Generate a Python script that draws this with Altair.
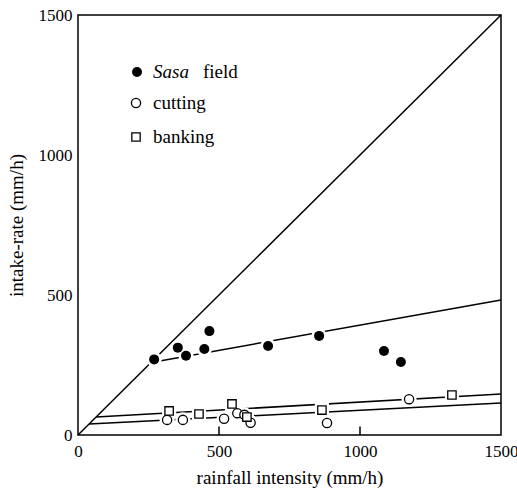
import altair as alt
import pandas as pd

# ---- data ----
sasa_x = [270, 354, 383, 448, 466, 674, 855, 1085, 1145]
sasa_y = [270, 312, 283, 307, 371, 318, 354, 300, 261]
cut_x = [316, 372, 518, 565, 590, 612, 883, 1174]
cut_y = [54, 54, 58, 78, 72, 44, 43, 128]
bank_x = [323, 429, 546, 599, 865, 1326]
bank_y = [86, 75, 111, 64, 89, 143]

# fitted lines (end points) and the 1:1 line
diag_x = [0, 1500]
diag_y = [0, 1500]
sasa_line_x = [270, 1500]
sasa_line_y = [261, 482]
bank_line_x = [64, 1500]
bank_line_y = [64, 146]
cut_line_x = [39, 1500]
cut_line_y = [39, 114]

tick_vals = [0, 500, 1000, 1500]
inner_ticks = [500, 1000]

legend_labels = ["field", "cutting", "banking"]

FONT = "Liberation Serif"

pts = pd.concat([
    pd.DataFrame({"x": sasa_x, "y": sasa_y, "g": "sasa"}),
    pd.DataFrame({"x": cut_x, "y": cut_y, "g": "cut"}),
    pd.DataFrame({"x": bank_x, "y": bank_y, "g": "bank"}),
])
lines = pd.concat([
    pd.DataFrame({"x": diag_x, "y": diag_y, "g": "diag"}),
    pd.DataFrame({"x": sasa_line_x, "y": sasa_line_y, "g": "sasa"}),
    pd.DataFrame({"x": bank_line_x, "y": bank_line_y, "g": "bank"}),
    pd.DataFrame({"x": cut_line_x, "y": cut_line_y, "g": "cut"}),
])

xs = alt.Scale(domain=[0, 1500], nice=False)
ys = alt.Scale(domain=[0, 1500], nice=False)

X = alt.X("x:Q", scale=xs, title="rainfall  intensity  (mm/h)",
          axis=alt.Axis(values=tick_vals, format="d", labelPadding=8,
                        titlePadding=9))
Y = alt.Y("y:Q", scale=ys, title="intake-rate  (mm/h)",
          axis=alt.Axis(values=tick_vals, format="d", labelPadding=6,
                        titlePadding=12))

line_layer = alt.Chart(lines).mark_line(color="black", strokeWidth=1.5).encode(
    x=X, y=Y, detail="g:N")

tick_df = pd.DataFrame({"x": inner_ticks, "y": 0, "y2": 30})
tick_layer = alt.Chart(tick_df).mark_rule(color="black", strokeWidth=1.5).encode(
    x=X, y=Y, y2="y2:Q")

base_p = alt.Chart(pts)
halo_c = base_p.transform_filter("datum.g != 'bank'").mark_point(
    shape="circle", filled=True, color="white", size=230, opacity=1).encode(x=X, y=Y)
halo_s = base_p.transform_filter("datum.g == 'bank'").mark_point(
    shape="square", filled=True, color="white", size=200, opacity=1).encode(x=X, y=Y)

sasa_pts = base_p.transform_filter("datum.g == 'sasa'").mark_point(
    shape="circle", filled=True, color="black", size=100, opacity=1).encode(x=X, y=Y)
cut_pts = base_p.transform_filter("datum.g == 'cut'").mark_point(
    shape="circle", filled=True, fill="white", stroke="black", strokeWidth=1.3,
    size=85, opacity=1).encode(x=X, y=Y)
bank_pts = base_p.transform_filter("datum.g == 'bank'").mark_point(
    shape="square", filled=True, fill="white", stroke="black", strokeWidth=1.3,
    size=70, opacity=1).encode(x=X, y=Y)

# legend drawn inside the plot (pixel positions), one row per element
one = pd.DataFrame({"k": [0]})
txt = dict(align="left", baseline="middle", font=FONT, fontSize=19,
           fontWeight="normal", color="black")
leg_sasa = alt.Chart(one).mark_point(
    shape="circle", filled=True, color="black", size=100, opacity=1).encode(
    x=alt.value(59), y=alt.value(57))
leg_cut = alt.Chart(one).mark_point(
    shape="circle", filled=True, fill="white", stroke="black", strokeWidth=1.3,
    size=85, opacity=1).encode(x=alt.value(58), y=alt.value(88))
leg_bank = alt.Chart(one).mark_point(
    shape="square", filled=True, fill="white", stroke="black", strokeWidth=1.3,
    size=70, opacity=1).encode(x=alt.value(58), y=alt.value(122))
leg_italic = alt.Chart(one).mark_text(fontStyle="italic", **txt).encode(
    x=alt.value(75), y=alt.value(57), text=alt.value("Sasa"))
leg_t1 = alt.Chart(one).mark_text(**txt).encode(
    x=alt.value(125), y=alt.value(57), text=alt.value(legend_labels[0]))
leg_t2 = alt.Chart(one).mark_text(**txt).encode(
    x=alt.value(75), y=alt.value(88), text=alt.value(legend_labels[1]))
leg_t3 = alt.Chart(one).mark_text(**txt).encode(
    x=alt.value(75), y=alt.value(122), text=alt.value(legend_labels[2]))

chart = alt.layer(
    line_layer, tick_layer, halo_c, halo_s, sasa_pts, cut_pts, bank_pts,
    leg_sasa, leg_cut, leg_bank, leg_italic, leg_t1, leg_t2, leg_t3
).properties(
    width=423, height=420,
    autosize=alt.AutoSizeParams(type="none"),
    padding={"left": 78, "top": 15, "right": 16, "bottom": 56},
    background="white",
).configure_view(
    stroke="black", strokeWidth=1.5
).configure_axis(
    grid=False, domain=False, tickSize=0, labelFlush=False,
    labelFont=FONT, labelFontSize=17, labelColor="black",
    titleFont=FONT, titleFontSize=19, titleFontWeight="normal", titleColor="black",
)

chart.save("out.html", embed_options={"renderer": "svg", "actions": False})
